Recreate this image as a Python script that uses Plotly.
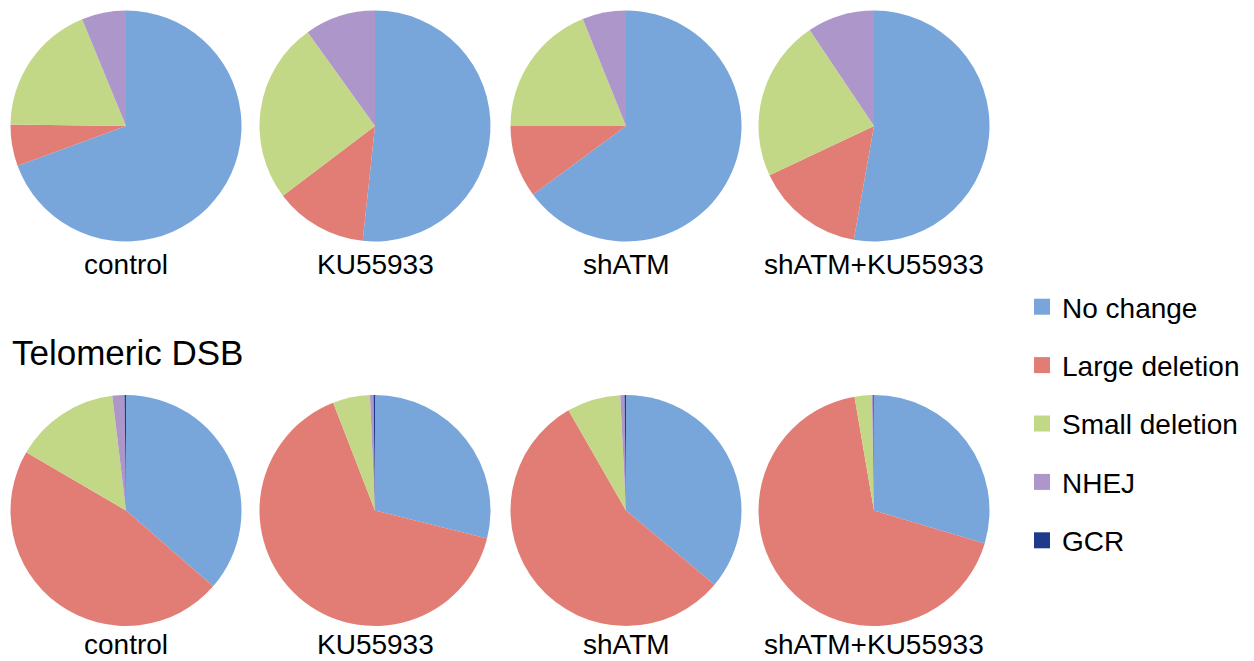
import plotly.graph_objects as go

W, H = 1254, 661

categories = ["No change", "Large deletion", "Small deletion", "NHEJ", "GCR"]
colors = ["#78a6da", "#e27d76", "#c2d886", "#ad97ca", "#1d3a8c"]
conditions = ["control", "KU55933", "shATM", "shATM+KU55933"]

# top row (no title)
top_control = [69.4, 5.8, 18.6, 6.2, 0.0]
top_ku = [51.7, 13.0, 25.4, 9.9, 0.0]
top_shatm = [64.9, 10.1, 18.9, 6.1, 0.0]
top_shatm_ku = [52.8, 15.2, 22.6, 9.4, 0.0]

# Telomeric DSB row
tel_control = [36.4, 47.0, 14.7, 1.7, 0.2]
tel_ku = [28.9, 65.2, 5.2, 0.5, 0.2]
tel_shatm = [36.1, 55.6, 7.5, 0.6, 0.2]
tel_shatm_ku = [29.6, 67.7, 2.4, 0.2, 0.1]

row_title = "Telomeric DSB"

rows = [
    [top_control, top_ku, top_shatm, top_shatm_ku],
    [tel_control, tel_ku, tel_shatm, tel_shatm_ku],
]

centers_x = [126, 375, 626, 874]
centers_y = [126, 510.5]
radius = 115.5

fig = go.Figure()
annotations = []
for r, row in enumerate(rows):
    cy = centers_y[r]
    for c, vals in enumerate(row):
        cx = centers_x[c]
        fig.add_trace(go.Pie(
            labels=categories,
            values=vals,
            sort=False,
            direction="clockwise",
            rotation=0,
            textinfo="none",
            hoverinfo="label+percent",
            marker=dict(colors=colors, line=dict(width=0)),
            domain=dict(x=[(cx - radius) / W, (cx + radius) / W],
                        y=[(H - cy - radius) / H, (H - cy + radius) / H]),
            showlegend=False,
            name=conditions[c],
        ))
        if r == 0:
            annotations.append(dict(
                text=conditions[c], x=cx / W, y=(H - (cy + radius + 23)) / H,
                xref="paper", yref="paper", xanchor="center", yanchor="middle",
                showarrow=False, font=dict(size=28, color="#000000"),
            ))
        else:
            annotations.append(dict(
                text=conditions[c], x=cx / W, y=0,
                xref="paper", yref="paper", xanchor="center", yanchor="bottom",
                borderpad=0,
                showarrow=False, font=dict(size=28, color="#000000"),
            ))

annotations.append(dict(
    text=row_title, x=10 / W, y=(H - 352) / H,
    xref="paper", yref="paper", xanchor="left", yanchor="middle",
    showarrow=False, font=dict(size=35, color="#000000"),
))

# legend entries via dummy traces
for i, (cat, col) in enumerate(zip(categories, colors)):
    fig.add_trace(go.Scatter(
        x=[None], y=[None], mode="markers", name=cat,
        marker=dict(symbol="square", size=18, color=col),
        legendgroup=cat, showlegend=True,
    ))

fig.update_layout(
    width=W, height=H,
    margin=dict(l=0, r=0, t=0, b=0),
    paper_bgcolor="white", plot_bgcolor="white",
    font=dict(family="Liberation Sans, Arial, sans-serif", color="#000000"),
    xaxis=dict(visible=False), yaxis=dict(visible=False),
    annotations=annotations,
    legend=dict(
        x=1022 / W, y=(H - 282) / H, xanchor="left", yanchor="top",
        font=dict(size=28), tracegroupgap=19, itemwidth=30,
        bgcolor="rgba(0,0,0,0)",
    ),
    showlegend=True,
)

fig.write_html("out.html")
